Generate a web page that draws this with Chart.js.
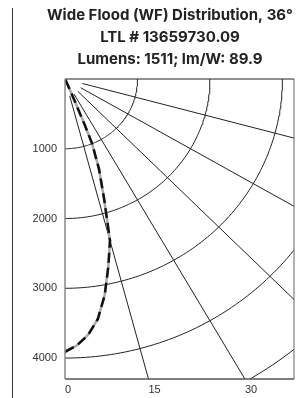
<!DOCTYPE html>
<html lang="en">
<head>
  <meta charset="UTF-8" />
  <title>Wide Flood Distribution</title>
  <script src="https://cdn.jsdelivr.net/npm/chart.js"></script>
  <style>
    html, body {
      margin: 0;
      padding: 0;
      background: #fff;
      overflow: hidden;
    }
    #plot {
      position: absolute;
      left: 0;
      top: 0;
    }
    .edge {
      position: absolute;
      left: 12px;
      top: 8px;
      width: 1px;
      height: 390px;
      background: #333;
    }
  </style>
</head>
<body>
  <canvas id="plot" width="340" height="398"></canvas>
  <div class="edge"></div>
  <script>
    const titleLines = ["Wide Flood (WF) Distribution, 36°", "LTL # 13659730.09", "Lumens: 1511; lm/W: 89.9"];
    // degrees from nadir and candela
    const angles = [0, 2.5, 5, 7.5, 10, 12.5, 15, 17.5, 20, 22, 22.5, 23, 24, 25, 30, 35, 45, 60, 75, 90];
    const candelaPlane0 = [3910, 3820, 3680, 3470, 3150, 2760, 2400, 1790, 1370, 1000, 700, 350, 120, 50, 15, 8, 5, 2, 1, 0];
    const candelaPlane90 = [3910, 3820, 3680, 3470, 3150, 2760, 2400, 1790, 1370, 1000, 700, 350, 120, 50, 15, 8, 5, 2, 1, 0];
    const gridRadii = [1000, 2000, 3000, 4000, 5000];
    const gridAngles = [15, 30, 45, 60, 75];
    const yTicks = [1000, 2000, 3000, 4000];
    const xTickAngles = [0, 15, 30];
    const yMax = 4300;
    const xMax = 3160;

    function toXY(angle, cd) {
      const a = angle * Math.PI / 180;
      return { x: cd * Math.sin(a), y: cd * Math.cos(a) };
    }

    const gridSets = [];
    gridRadii.forEach(r => {
      const pts = [];
      for (let a = 0; a <= 90; a += 1) pts.push(toXY(a, r));
      gridSets.push({ data: pts, showLine: true, borderColor: "#222", borderWidth: 1, pointRadius: 0, order: 5 });
    });
    gridAngles.forEach(a => {
      gridSets.push({ data: [toXY(a, 250), toXY(a, 9000)], showLine: true, borderColor: "#222", borderWidth: 1, pointRadius: 0, order: 5 });
    });

    const frame = {
      id: "frame",
      afterDatasetsDraw(chart) {
        const { ctx, chartArea: c } = chart;
        const seg = (x1, y1, x2, y2, col, w) => {
          ctx.save();
          ctx.strokeStyle = col;
          ctx.lineWidth = w;
          ctx.beginPath();
          ctx.moveTo(x1, y1);
          ctx.lineTo(x2, y2);
          ctx.stroke();
          ctx.restore();
        };
        seg(c.left, c.top, c.right, c.top, "#222", 1);
        seg(c.right, c.top, c.right, c.bottom, "#666", 1);
        seg(c.left, c.bottom, c.right, c.bottom, "#555", 1.5);
        seg(c.left, c.top, c.left, c.bottom, "#888", 1.5);
      }
    };

    const tickFont = { family: "Liberation Sans", size: 11 };

    new Chart(document.getElementById("plot"), {
      type: "scatter",
      data: {
        datasets: [
          {
            data: angles.map((a, i) => toXY(a, candelaPlane0[i])),
            showLine: true, borderColor: "#111", borderWidth: 2.5, borderDash: [10, 5],
            pointRadius: 0, order: 0
          },
          {
            data: angles.map((a, i) => toXY(a, candelaPlane90[i])),
            showLine: true, borderColor: "#aaa", borderWidth: 2.5,
            pointRadius: 0, order: 1
          },
          ...gridSets
        ]
      },
      options: {
        responsive: false,
        devicePixelRatio: 1,
        animation: false,
        plugins: {
          legend: { display: false },
          tooltip: { enabled: false },
          title: {
            display: true,
            text: titleLines,
            color: "#222",
            font: { family: "Inter", size: 15, weight: "700", lineHeight: 22 / 15 },
            padding: { top: 4, bottom: 9 }
          }
        },
        scales: {
          x: {
            type: "linear",
            min: 0,
            max: xMax,
            grid: { display: false, drawTicks: false },
            border: { display: false },
            afterFit: s => { s.height = 19; },
            afterBuildTicks: s => { s.ticks = xTickAngles.map(a => ({ value: yMax * Math.tan(a * Math.PI / 180) })); },
            ticks: {
              align: "start",
              padding: 4,
              color: "#333",
              font: tickFont,
              maxRotation: 0,
              callback: (v, i) => String(xTickAngles[i])
            }
          },
          y: {
            type: "linear",
            reverse: true,
            min: 0,
            max: yMax,
            grid: { display: false, drawTicks: false },
            border: { display: false },
            afterFit: s => { s.width = 65; },
            afterBuildTicks: s => { s.ticks = yTicks.map(v => ({ value: v })); },
            ticks: { padding: 8, color: "#333", font: tickFont, callback: v => String(v) }
          },
          pad: {
            type: "linear",
            position: "right",
            grid: { display: false, drawTicks: false },
            border: { display: false },
            ticks: { display: false },
            afterFit: s => { s.width = 46; }
          }
        }
      },
      plugins: [frame]
    });
  </script>
</body>
</html>
